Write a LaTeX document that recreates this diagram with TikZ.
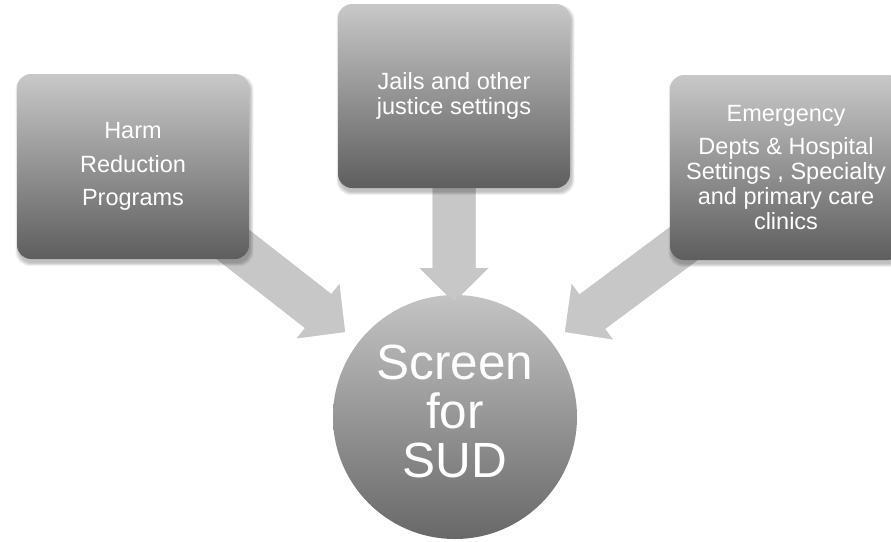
\documentclass[tikz,border=0pt]{standalone}
\usepackage{fontspec}
\setmainfont{Liberation Sans}
\usetikzlibrary{calc}
\definecolor{boxtop}{HTML}{C8C8C8}
\definecolor{boxbot}{HTML}{5E5E5E}
\definecolor{circtop}{HTML}{C4C4C4}
\definecolor{circbot}{HTML}{686868}
\definecolor{arrowfill}{HTML}{C7C7C7}
\newcommand\blockarrow[2]{%
  \coordinate (ahead) at ($(#2)!34pt!(#1)$);
  \foreach \sh in {1,2,3}{%
    \fill[black, opacity=0.05, shift={(0.5*\sh,1.2*\sh)}] ($(#1)!21.5pt!90:(#2)$) -- ($(ahead)!21.5pt!90:(#2)$)
      -- ($(ahead)!34.5pt!90:(#2)$) -- (#2) -- ($(ahead)!34.5pt!-90:(#2)$)
      -- ($(ahead)!21.5pt!-90:(#2)$) -- ($(#1)!21.5pt!-90:(#2)$) -- cycle;}
  \fill[arrowstyle] ($(#1)!21.5pt!90:(#2)$) -- ($(ahead)!21.5pt!90:(#2)$)
    -- ($(ahead)!34.5pt!90:(#2)$) -- (#2) -- ($(ahead)!34.5pt!-90:(#2)$)
    -- ($(ahead)!21.5pt!-90:(#2)$) -- ($(#1)!21.5pt!-90:(#2)$) -- cycle;
}
\newcommand\boxshadow[3]{% center, width, height
  \foreach \k in {0,...,5}{%
    \fill[black, opacity=0.045, rounded corners=14pt]
      ($(#1)+(-#2/2+1.5-3+\k*0.6,-#3/2+4-3+\k*0.6)$) rectangle
      ($(#1)+(#2/2+1.5+3-\k*0.6,#3/2+4+3-\k*0.6)$);}
}
\begin{document}
\begin{tikzpicture}[x=1pt,y=-1pt,
  sbox/.style={rectangle, rounded corners=14pt, minimum width=232pt,
    minimum height=185pt, top color=boxtop, bottom color=boxbot,
    inner sep=0pt, text=white, align=center,
    font=\fontsize{23.5}{25}\selectfont},
  scirc/.style={circle, minimum size=244pt, inner sep=0pt,
    top color=circtop, bottom color=circbot, text=white, align=center,
    font=\fontsize{49.5}{49}\selectfont, text depth=12pt},
  arrowstyle/.style={fill=arrowfill}
]
\useasboundingbox (0,0) rectangle (891,541);
\fill[white] (0,0) rectangle (891,541);

\coordinate (harmc) at (133,166.5);
\coordinate (jailc) at (454,96);
\coordinate (emergc) at (786,167.5);
\coordinate (tipL) at (345,332);
\coordinate (tipM) at (454,302);
\coordinate (tipR) at (565,332);

\node[scirc] (sud) at (455,417) {Screen\\for\\SUD};

\blockarrow{harmc}{tipL}
\blockarrow{jailc}{tipM}
\blockarrow{emergc}{tipR}

\boxshadow{harmc}{232}{185}
\boxshadow{jailc}{232}{184}
\boxshadow{emergc}{232}{185}

\node[sbox, font=\fontsize{23.5}{33.5}\selectfont] (harm) at (harmc) {Harm\\Reduction\\Programs};
\node[sbox, minimum height=184pt] (jail) at (jailc) {Jails and other\\justice settings};
\node[sbox] (emerg) at (emergc) {Emergency\\[8pt]Depts \& Hospital\\Settings , Specialty\\and primary care\\clinics};
\end{tikzpicture}
\end{document}
